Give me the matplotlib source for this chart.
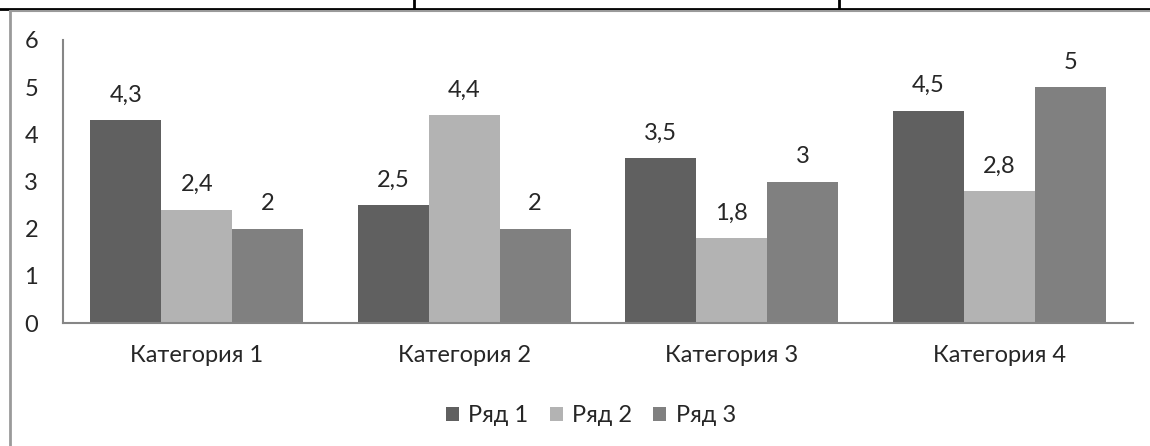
import matplotlib.pyplot as plt
from matplotlib.lines import Line2D
import numpy as np

# data
categories = ['Категория 1', 'Категория 2', 'Категория 3', 'Категория 4']
series_names = ['Ряд 1', 'Ряд 2', 'Ряд 3']
row1 = [4.3, 2.5, 3.5, 4.5]
row2 = [2.4, 4.4, 1.8, 2.8]
row3 = [2, 2, 3, 5]
colors = ['#606060', '#b3b3b3', '#808080']

plt.rcParams['font.family'] = ['Lato', 'DejaVu Sans']
txt_color = '#262626'
fs = 17

fig = plt.figure(figsize=(11.5, 4.46), dpi=100)
ax = fig.add_axes([63 / 1150, 123 / 446, 1070 / 1150, 283 / 446])

x = np.arange(len(categories))
w = 0.265
for i, vals in enumerate([row1, row2, row3]):
    bars = ax.bar(x + (i - 1) * w, vals, w, color=colors[i], label=series_names[i])
    for b, v in zip(bars, vals):
        ax.annotate(format(v, 'g').replace('.', ','),
                    (b.get_x() + b.get_width() / 2, b.get_height()),
                    xytext=(0, 18), textcoords='offset points',
                    ha='center', va='center', fontsize=fs, color=txt_color)

ax.set_xlim(-0.5, 3.5)
ax.set_ylim(0, 6)
ax.set_xticks(x)
ax.set_xticklabels(categories)
ax.set_yticks(range(7))
ax.tick_params(axis='both', length=0, labelsize=fs, colors=txt_color)
ax.tick_params(axis='x', pad=16)
ax.tick_params(axis='y', pad=18)

for s in ['top', 'right']:
    ax.spines[s].set_visible(False)
for s in ['left', 'bottom']:
    ax.spines[s].set_color('#868686')
    ax.spines[s].set_linewidth(1.5)

ax.legend(loc='center', bbox_to_anchor=(591 / 1150, 1 - 416 / 446),
          bbox_transform=fig.transFigure, ncol=3, frameon=False,
          fontsize=fs, handlelength=0.55, handleheight=0.55, handletextpad=0.4,
          columnspacing=0.9, labelcolor=txt_color)

# page borders around the chart
fig.add_artist(Line2D([0, 1], [1 - 8.5 / 446] * 2, color='black', lw=2))
for px in [414, 839]:
    fig.add_artist(Line2D([px / 1150] * 2, [1 - 8 / 446, 1], color='black', lw=2))
fig.add_artist(Line2D([9.5 / 1150, 1], [1 - 11 / 446] * 2, color='#9a9a9a', lw=1.5))
fig.add_artist(Line2D([9.5 / 1150] * 2, [0, 1 - 11 / 446], color='#9a9a9a', lw=2))

plt.savefig('out.png')
